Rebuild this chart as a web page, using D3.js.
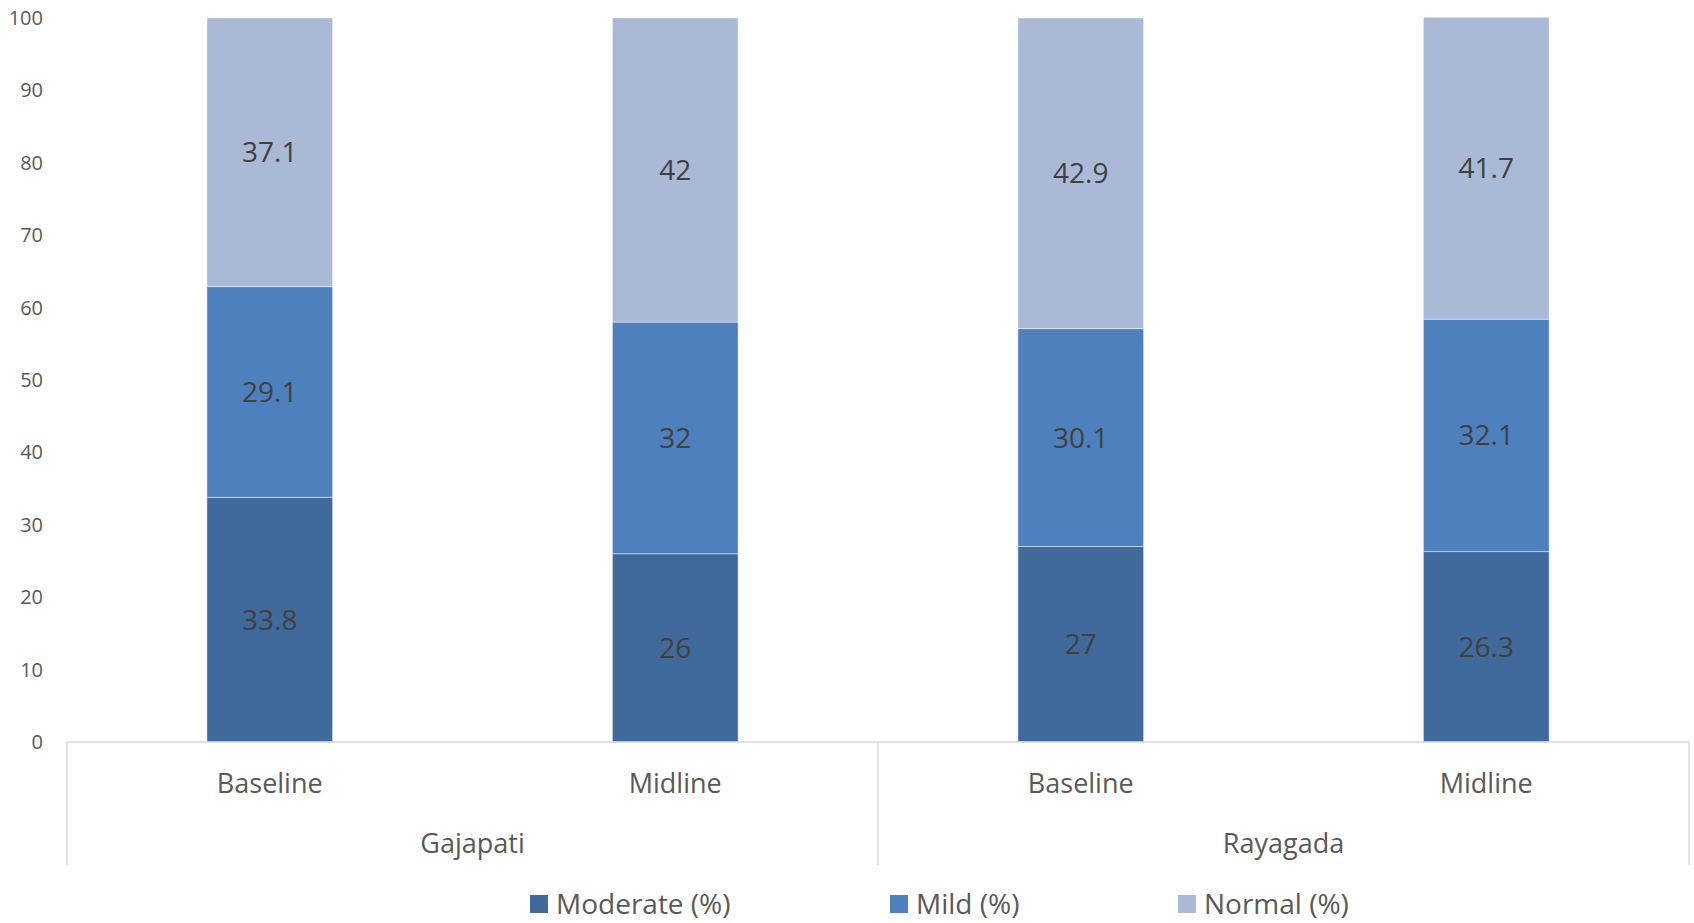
<!DOCTYPE html>
<html>
<head>
<meta charset="utf-8">
<script src="https://cdn.jsdelivr.net/npm/d3@7"></script>
<style>
  html, body { margin: 0; padding: 0; background: #fff; }
  svg { display: block; font-family: "Open Sans", "Noto Sans", sans-serif; }
</style>
</head>
<body>
<svg id="chart" width="1694" height="923"></svg>
<script>
// Stacked percentage bars: anaemia status by district and survey round
const districts = ["Gajapati", "Rayagada"];
const rounds = ["Baseline", "Midline"];
const categories = ["Gajapati|Baseline", "Gajapati|Midline", "Rayagada|Baseline", "Rayagada|Midline"];
const seriesNames = ["Moderate (%)", "Mild (%)", "Normal (%)"];
const moderate = [33.8, 26, 27, 26.3];
const mild = [29.1, 32, 30.1, 32.1];
const normal = [37.1, 42, 42.9, 41.7];
const yTicks = [0, 10, 20, 30, 40, 50, 60, 70, 80, 90, 100];
const colors = ["#3F6A9B", "#4D80BC", "#AAB9D6"];

const rows = categories.map((c, i) => ({
  key: c,
  round: c.split("|")[1],
  "Moderate (%)": moderate[i],
  "Mild (%)": mild[i],
  "Normal (%)": normal[i]
}));

const svg = d3.select("#chart");
const plot = { left: 67, right: 1689, top: 18, bottom: 742 };

const x = d3.scaleBand()
  .domain(categories)
  .range([plot.left, plot.right])
  .paddingInner(0.69)
  .paddingOuter(0.345);

const y = d3.scaleLinear().domain([0, 100]).range([plot.bottom, plot.top]);

const stacked = d3.stack().keys(seriesNames)(rows);

// Value tick labels (no axis line)
const yAxis = d3.axisLeft(y).tickValues(yTicks).tickSize(0).tickPadding(0);
const yg = svg.append("g").attr("transform", "translate(43,0)").call(yAxis);
yg.select(".domain").remove();
yg.selectAll("text")
  .attr("fill", "#595959")
  .style("font-size", "20px")
  .style("font-family", "'Open Sans', sans-serif");

// Bars
const layers = svg.append("g").selectAll("g")
  .data(stacked)
  .join("g")
  .attr("fill", (d, i) => colors[i]);

layers.selectAll("rect")
  .data(d => d.map(p => ({ p, key: d.key })))
  .join("rect")
  .attr("x", d => x(d.p.data.key))
  .attr("width", x.bandwidth())
  .attr("y", d => y(d.p[1]))
  .attr("height", d => y(d.p[0]) - y(d.p[1]))
  .attr("stroke", "rgba(255,255,255,0.45)")
  .attr("stroke-width", 1);

// Segment value labels
layers.selectAll("text")
  .data(d => d.map(p => ({ p, key: d.key })))
  .join("text")
  .attr("x", d => x(d.p.data.key) + x.bandwidth() / 2)
  .attr("y", d => (y(d.p[0]) + y(d.p[1])) / 2)
  .attr("dy", "0.36em")
  .attr("text-anchor", "middle")
  .attr("fill", "#404040")
  .style("font-size", "28px")
  .text(d => d.p.data[d.key]);

// Category axis: baseline, group dividers, two label levels
const axisColor = "#D9D9D9";
const axisG = svg.append("g");
axisG.append("line")
  .attr("x1", plot.left).attr("x2", plot.right)
  .attr("y1", plot.bottom).attr("y2", plot.bottom)
  .attr("stroke", axisColor).attr("stroke-width", 1.5);

const groupEdges = [plot.left, (plot.left + plot.right) / 2, plot.right];
axisG.selectAll("line.div")
  .data(groupEdges)
  .join("line")
  .attr("class", "div")
  .attr("x1", d => d).attr("x2", d => d)
  .attr("y1", plot.bottom).attr("y2", 865)
  .attr("stroke", axisColor).attr("stroke-width", 1.5);

axisG.selectAll("text.cat")
  .data(rows)
  .join("text")
  .attr("class", "cat")
  .attr("x", d => x(d.key) + x.bandwidth() / 2)
  .attr("y", 783)
  .attr("dy", "0.36em")
  .attr("text-anchor", "middle")
  .attr("fill", "#595959")
  .style("font-size", "27px")
  .text(d => d.round);

axisG.selectAll("text.grp")
  .data(districts)
  .join("text")
  .attr("class", "grp")
  .attr("x", (d, i) => (groupEdges[i] + groupEdges[i + 1]) / 2)
  .attr("y", 843)
  .attr("dy", "0.36em")
  .attr("text-anchor", "middle")
  .attr("fill", "#595959")
  .style("font-size", "27px")
  .text(d => d);

// Legend
const legendX = [530, 890, 1178];
const legend = svg.append("g").selectAll("g")
  .data(seriesNames)
  .join("g")
  .attr("transform", (d, i) => `translate(${legendX[i]},895)`);
legend.append("rect")
  .attr("width", 18).attr("height", 18)
  .attr("fill", (d, i) => colors[i]);
legend.append("text")
  .attr("x", 26).attr("y", 9)
  .attr("dy", "0.36em")
  .attr("fill", "#595959")
  .style("font-size", "28px")
  .text(d => d);
</script>
</body>
</html>
